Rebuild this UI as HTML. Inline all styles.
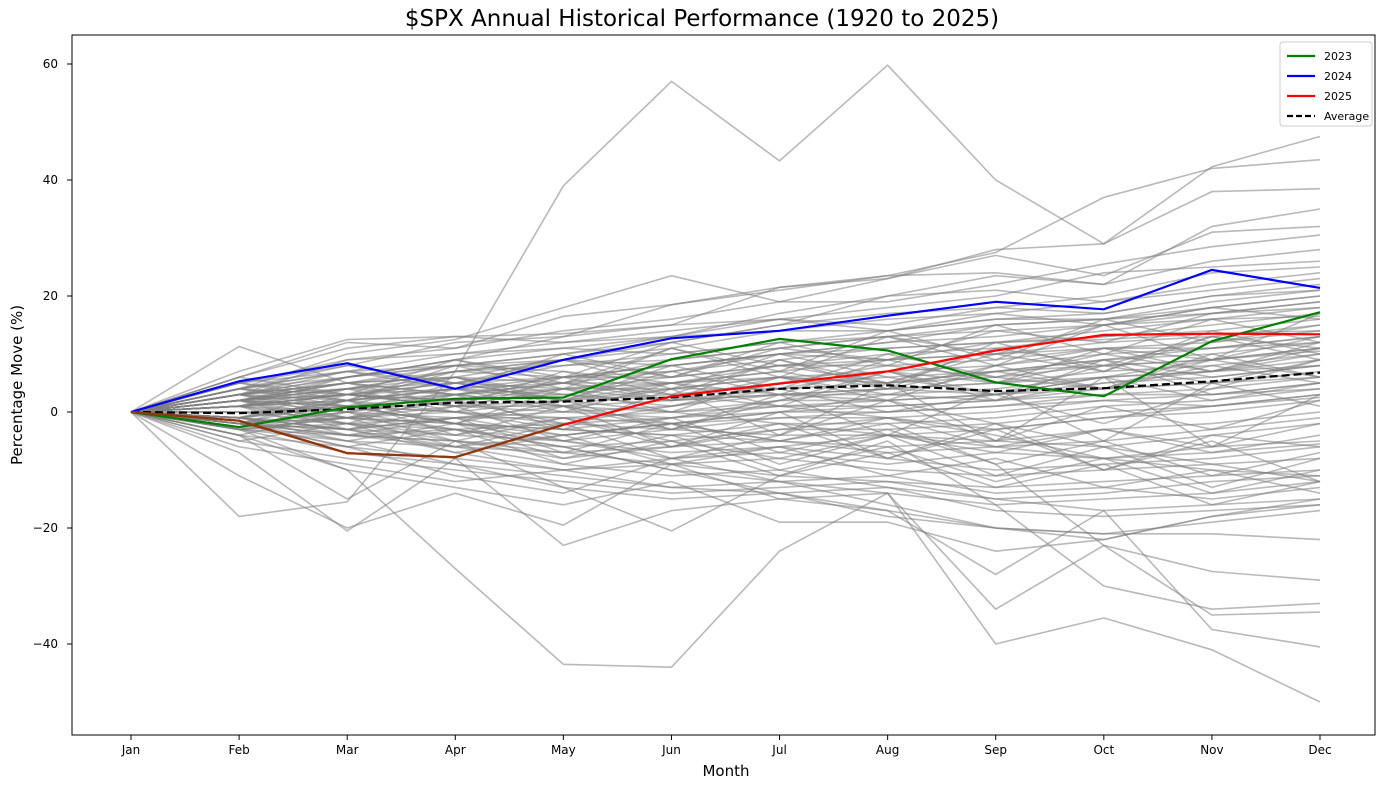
<!DOCTYPE html>
<html><head><meta charset="utf-8">
<style>
html,body{margin:0;padding:0;background:#fff;}
svg{display:block;font-family:"DejaVu Sans","Liberation Sans",sans-serif;}
</style></head>
<body>
<svg id="chart" width="1389" height="790" viewBox="0 0 1389 790">
  <rect x="0" y="0" width="1389" height="790" fill="#fff"/>
  <text x="702" y="26" text-anchor="middle" font-size="23" fill="#000">$SPX Annual Historical Performance (1920 to 2025)</text>
  <text x="726" y="776" text-anchor="middle" font-size="15" fill="#000">Month</text>
  <text transform="translate(22,385) rotate(-90)" text-anchor="middle" font-size="15" fill="#000">Percentage Move (%)</text>
  <g id="lines"></g>
  <rect x="72" y="35" width="1303" height="700" fill="none" stroke="#000" stroke-width="1"/>
  <g id="axes"></g>
  <g id="legend"></g>
</svg>
<script>
const months = ["Jan","Feb","Mar","Apr","May","Jun","Jul","Aug","Sep","Oct","Nov","Dec"];
const yTicks = [60,40,20,0,-20,-40];
const series2023 = [0,-2.6,0.8,2.3,2.5,9.1,12.6,10.6,5.1,2.7,12.2,17.2];
const series2024 = [0,5.3,8.4,4.0,9.0,12.7,14.0,16.6,19.0,17.7,24.5,21.4];
const series2025 = [0,-1.5,-7.1,-7.8,-2.2,2.7,4.9,7.0,10.6,13.3,13.5,13.4];
const seriesAverage = [0,-0.2,0.5,1.6,1.8,2.5,4.0,4.6,3.6,4.1,5.3,6.8];
const historical = [
[0,-18,-15.5,7,39,57,43.3,59.8,40,29,42.3,47.5],
[0,-3,-10,-27,-43.5,-44,-24,-14,-40,-35.5,-41,-50],
[0,11.3,5,3,1,-2,-5,-2,-9,-23,-27.5,-29],
[0,-11,-20,-14,-19.5,-9,-15,-14,-34,-23,-35,-34.5],
[0,-7,-20.5,-8,-23,-17,-15,-17,-28,-17,-37.5,-40.5],
[0,-4,-15,-5,-13,-20.5,-11,-5,-16,-30,-34,-33],
[0,-2,-6,-11,-14,-8,-12,-16,-20,-21,-21,-22],
[0,3,6,9,13,18.5,21,23.5,27.5,37,42,43.5],
[0,4,10,12.5,18,23.5,19,23,28,29,38,38.5],
[0,6,12,11,16.5,18.5,21.5,23.5,24,22,32,35],
[0,5,8,12,13,15,21.5,23,27,23.5,31,32],
[0,3,9,11,14,16,19,19,22,25.5,28.5,30.5],
[0,2,6,8,10,13,17,20,23.5,22,26,28],
[0,4,7,10,12,14,16,15,18,20,24,25],
[0,2,5,6,9,11,14,16,17,19,21,23],
[0,3,4,7,8,10,12,14,16,17,20,21],
[0,1,3,5,8,9,11,13,15,16,18,20],
[0,2,4,5,6,8,10,12,13,15,17,19],
[0,-1,2,4,5,7,9,11,12,14,16,18],
[0,3,5,3,6,8,10,9,12,13,15,17],
[0,1,2,3,4,6,8,10,11,13,14,16],
[0,2,1,3,5,5,7,9,10,12,13,15],
[0,-2,0,2,3,5,8,8,9,11,12,14],
[0,1,3,2,4,4,6,7,8,10,11,13],
[0,-1,1,0,2,3,5,6,7,9,10,12],
[0,2,3,1,2,4,4,5,6,8,9,11],
[0,0,-1,1,1,2,3,4,5,7,8,10],
[0,-3,-2,-1,0,1,3,3,4,6,7,9],
[0,1,0,-1,-1,0,2,2,3,5,6,8],
[0,-1,-2,-3,-2,-1,1,1,2,4,5,7],
[0,2,-1,-2,-4,-2,0,0,1,3,4,6],
[0,-2,-3,-4,-5,-3,-1,-1,0,2,3,5],
[0,1,-1,-2,-3,-4,-2,-2,-1,1,2,4],
[0,-1,-4,-5,-6,-5,-3,-3,-2,0,1,3],
[0,3,1,0,-2,-3,-4,-4,-3,-1,0,2],
[0,-3,-5,-6,-7,-6,-5,-6,-5,-3,-2,0],
[0,2,3,4,2,0,-2,-4,-5,-6,-4,-2],
[0,1,2,0,-3,-4,-5,-7,-6,-8,-6,-5],
[0,-2,-4,-3,-5,-7,-6,-8,-10,-9,-8,-6],
[0,0,-2,-5,-7,-9,-8,-10,-11,-10,-9,-8],
[0,-4,-6,-8,-10,-9,-11,-12,-13,-12,-11,-10],
[0,-1,-3,-6,-9,-11,-10,-13,-15,-14,-12,-11],
[0,-3,-7,-9,-11,-13,-12,-14,-16,-15,-14,-12],
[0,2,0,-3,-6,-10,-12,-11,-14,-13,-15,-13],
[0,-5,-8,-10,-12,-14,-13,-12,-15,-17,-16,-15],
[0,-2,-5,-9,-13,-15,-14,-13,-17,-18,-17,-16],
[0,-6,-9,-12,-10,-13,-14,-18,-20,-21,-19,-17],
[0,-4,-10,-13,-16,-12,-19,-19,-24,-22,-18,-15],
[0,7,12.5,13,13.5,15,16,14,17,15,18,20],
[0,6,11,13,12,13,14,14,16,16,17,18],
[0,5,9,10,11,10,12,13,14,15,16,16.5],
[0,4,7,8,9,8,10,11,12,12.5,13.5,14],
[0,3,5,7,6,6,8,9,10,11,11,12],
[0,5,7,5,4,5,6,5,7,8,9,10.5],
[0,3,2,4,3,2,3,4,5,6,7,8],
[0,2,4,3,1,0,1,2,3,4,5,6],
[0,4,3,1,0,-1,0,1,2,3,3,4],
[0,-2,-1,0,-1,-2,-1,0,1,2,1,2.5],
[0,1,4,7,9,12,15,17,18,17,20,22],
[0,3,6,9,11,13,16,18,20,24,25,26],
[0,2,5,8,10,12,15,20,21,19,22,24],
[0,-1,2,4,6,7,10,12,15,16,19,21],
[0,1,3,2,5,9,11,9,14,12,17,19],
[0,-2,-3,-1,1,4,6,5,7,9,11,13],
[0,0,1,-2,-3,-1,2,4,3,6,9,11],
[0,-3,-4,-6,-4,-2,0,3,2,5,7,10],
[0,-2,-4,-5,-8,-6,-3,-1,-3,-1,1,3],
[0,-1,-3,-7,-10,-8,-6,-4,-6,-5,-3,-1],
[0,2,1,-2,-5,-8,-7,-9,-7,-8,-7,-5.5],
[0,3,5,6,5,3,1,-1,-4,-8,-10,-11],
[0,4,6,8,7,5,3,2,-2,-6,-9,-12],
[0,-2,-1,-3,-6,-10,-14,-17,-20,-22,-18,-16],
[0,4,1,6,2,7,3,9,5,11,7,12],
[0,-3,2,-2,4,0,6,2,8,4,10,6],
[0,2,-3,1,-5,-1,-7,-3,-9,-5,-11,-7],
[0,-1,4,0,6,2,9,4,12,7,14,10],
[0,3,-1,4,0,5,1,7,2,9,3,5],
[0,-4,0,-5,-1,-6,-2,-8,-3,-10,-5,-12],
[0,5,2,8,4,11,6,13,8,15,9,17],
[0,-2,3,6,1,-3,2,7,3,-2,4,9],
[0,1,-4,-1,-7,-2,-9,-4,-11,-6,-13,-8],
[0,3,7,4,10,6,12,8,15,10,16,12],
[0,-1,-5,-2,-8,-4,-10,-6,-12,-8,-14,-10],
[0,2,5,1,7,3,9,5,11,8,13,11],
[0,-3,-1,-6,-2,-8,-4,2,-5,1,-3,2],
[0,4,8,5,9,4,10,6,3,8,5,9],
[0,-2,2,-4,1,-6,0,-8,-2,-10,-4,-6],
[0,1,6,9,5,11,7,14,9,16,12,15],
[0,2,-2,3,-3,4,-4,5,-5,6,-6,3],
[0,-5,-2,-7,-4,-9,-6,-11,-8,-13,-10,-14],
[0,6,3,9,6,12,8,5,10,7,13,9],
[0,-1,1,-2,2,-3,3,-4,4,-5,5,1],
[0,3,0,5,2,8,4,10,6,4,8,5],
[0,-2,-6,-3,-9,-5,-11,-7,-13,-9,-16,-12],
[0,4,2,7,9,6,11,13,10,15,18,16],
[0,1,-2,-4,-1,-5,-8,-4,-7,-3,-6,-2],
[0,2,4,6,3,1,5,8,6,10,7,11],
[0,-3,-1,2,-2,1,4,0,3,6,2,5],
[0,-1,-3,-1,-4,-2,-5,-1,-6,-3,-7,-4],
[0,5,3,1,4,2,6,3,7,4,9,6],
[0,-2,0,3,5,2,4,7,5,9,6,8],
[0,1,3,5,2,5,7,4,8,11,9,13]
];

const X0=131, XSTEP=(1320-131)/11, Y0=412, YPX=5.8;
const xScale = i => X0 + i*XSTEP;
const yScale = v => Y0 - v*YPX;
const NS="http://www.w3.org/2000/svg";
function mk(tag, attrs, parent){const e=document.createElementNS(NS,tag);for(const k in attrs)e.setAttribute(k,attrs[k]);parent.appendChild(e);return e;}
function pts(arr){return arr.map((v,i)=>xScale(i).toFixed(1)+","+yScale(v).toFixed(1)).join(" ");}

const axes=document.getElementById("axes");
months.forEach((m,i)=>{
  const t=mk("line",{x1:xScale(i),x2:xScale(i),y1:735,y2:740,stroke:"#000"},axes);
  
  
  const l=mk("text",{x:xScale(i),y:754,"text-anchor":"middle","font-size":"12"},axes);
  l.textContent=m;
  
  
});
yTicks.forEach(v=>{
  const t=mk("line",{x1:67,x2:72,y1:yScale(v),y2:yScale(v),stroke:"#000"},axes);
  
  
  const l=mk("text",{x:58,y:yScale(v)+4,"text-anchor":"end","font-size":"12"},axes);
  l.textContent=(v<0?"\u2212"+(-v):String(v));
  
  
});

const lines=document.getElementById("lines");
historical.forEach((arr,k)=>{
  const p=mk("polyline",{points:pts(arr),fill:"none",stroke:"rgba(128,128,128,0.55)","stroke-width":"1.6"},lines);
  
  
});
const avg=mk("polyline",{points:pts(seriesAverage),fill:"none",stroke:"#000","stroke-width":"2.2","stroke-dasharray":"8,4"},lines);


const l23=mk("polyline",{points:pts(series2023),fill:"none",stroke:"#008000","stroke-width":"2.2"},lines);


const l24=mk("polyline",{points:pts(series2024),fill:"none",stroke:"#0000ff","stroke-width":"2.2"},lines);


const l25=mk("polyline",{points:pts(series2025),fill:"none",stroke:"#ff0000","stroke-width":"2.2"},lines);


const l25b=mk("polyline",{points:pts(series2025.slice(0,5)),fill:"none",stroke:"#8b3a10","stroke-width":"2.2"},lines);



const lg=document.getElementById("legend");
mk("rect",{x:1280,y:42,width:92,height:84,rx:3,fill:"#fff","fill-opacity":"0.8",stroke:"#ccc"},lg);
const entries=[["2023","#008000",""],["2024","#0000ff",""],["2025","#ff0000",""],["Average","#000","6,3"]];
entries.forEach((e,i)=>{
  const y=56+i*20;
  const ln=mk("line",{x1:1287,x2:1315,y1:y,y2:y,stroke:e[1],"stroke-width":"2.2","stroke-dasharray":e[2]||"none"},lg);
  
  
  const t=mk("text",{x:1324,y:y+4,"font-size":"11"},lg);
  t.textContent=e[0];
  
  
});
</script>
</body></html>
